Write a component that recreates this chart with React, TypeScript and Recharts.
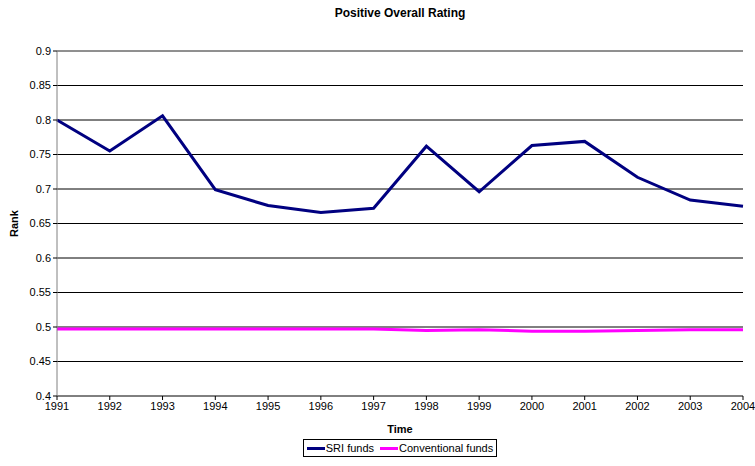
import { LineChart, Line, XAxis, YAxis, CartesianGrid, Legend, Label, ReferenceLine } from 'recharts';

const years = [1991, 1992, 1993, 1994, 1995, 1996, 1997, 1998, 1999, 2000, 2001, 2002, 2003, 2004];
const sriFunds = [0.8, 0.755, 0.806, 0.699, 0.676, 0.666, 0.672, 0.762, 0.696, 0.763, 0.769, 0.717, 0.684, 0.675];
const conventionalFunds = [0.497, 0.497, 0.497, 0.497, 0.497, 0.497, 0.497, 0.495, 0.496, 0.494, 0.494, 0.495, 0.496, 0.496];
const yTicks = [0.4, 0.45, 0.5, 0.55, 0.6, 0.65, 0.7, 0.75, 0.8, 0.85, 0.9];

const data = years.map((y, i) => ({
  year: y,
  sri: sriFunds[i],
  conv: conventionalFunds[i],
}));

const font = '"Liberation Sans", Arial, sans-serif';

const LegendBox = () => (
  <div
    style={{
      display: 'flex',
      justifyContent: 'center',
    }}
  >
    <div
      style={{
        border: '1px solid #000',
        display: 'flex',
        alignItems: 'center',
        padding: '1px 3px',
        fontSize: 11,
        fontFamily: font,
        color: '#000',
        lineHeight: '14px',
        background: '#fff',
      }}
    >
      <span style={{ display: 'inline-block', width: 18, height: 3, background: '#000080', marginRight: 1 }} />
      <span style={{ marginRight: 6 }}>SRI funds</span>
      <span style={{ display: 'inline-block', width: 18, height: 3, background: '#FF00FF', marginRight: 1 }} />
      <span>Conventional funds</span>
    </div>
  </div>
);

export default function App() {
  return (
    <div style={{ position: 'absolute', left: 0, top: 0, width: 755, height: 466, background: '#fff' }}>
      <div
        style={{
          position: 'absolute',
          left: 0,
          top: 6,
          width: 800,
          textAlign: 'center',
          fontFamily: font,
          fontWeight: 'bold',
          fontSize: 12,
        }}
      >
        Positive Overall Rating
      </div>
      <LineChart
        width={755}
        height={466}
        data={data}
        margin={{ top: 51, right: 12, left: 0, bottom: 0 }}
        style={{ fontFamily: font }}
      >
        <CartesianGrid horizontal vertical={false} stroke="#000" strokeOpacity={1} />
        <ReferenceLine y={0.9} stroke="#a0a0a0" />
        <XAxis
          dataKey="year"
          type="number"
          domain={[1991, 2004]}
          ticks={years}
          interval={0}
          height={45}
          stroke="#808080"
          tickSize={4}
          tick={{ fill: '#000', fontSize: 11 }}
          tickLine={{ stroke: '#000' }}
        >
          <Label value="Time" position="insideBottom" offset={8} style={{ fontWeight: 'bold', fontSize: 11, fill: '#000' }} />
        </XAxis>
        <YAxis
          type="number"
          domain={[0.4, 0.9]}
          ticks={yTicks}
          interval={0}
          width={57}
          stroke="#808080"
          tickSize={4}
          tick={{ fill: '#000', fontSize: 11 }}
          tickLine={{ stroke: '#000' }}
        >
          <Label value="Rank" angle={-90} position="insideLeft" offset={14} style={{ fontWeight: 'bold', fontSize: 11, fill: '#000', textAnchor: 'middle' }} />
        </YAxis>
        <Legend verticalAlign="bottom" height={25} content={<LegendBox />} wrapperStyle={{ left: 50, width: 700, bottom: 2 }} />
        <Line dataKey="conv" stroke="#FF00FF" strokeWidth={3} dot={false} isAnimationActive={false} />
        <Line dataKey="sri" stroke="#000080" strokeWidth={3} dot={false} isAnimationActive={false} />
      </LineChart>
    </div>
  );
}
